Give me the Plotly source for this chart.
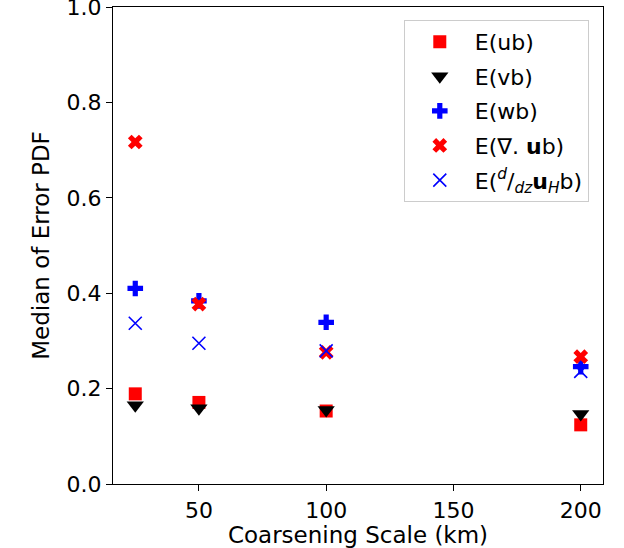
import plotly.graph_objects as go

scales = [25, 50, 100, 200]
e_ub = [0.189, 0.171, 0.153, 0.124]
e_vb = [0.165, 0.159, 0.155, 0.147]
e_wb = [0.410, 0.384, 0.339, 0.246]
e_div_ub = [0.717, 0.377, 0.276, 0.267]
e_dudz_b = [0.337, 0.295, 0.279, 0.236]

series = [
    ("E(ub)", e_ub, dict(symbol="square", color="red", size=13)),
    ("E(vb)", e_vb, dict(symbol="triangle-down", color="black", size=15)),
    ("E(wb)", e_wb, dict(symbol="cross", color="blue", size=13)),
    ("E(∇. <b>u</b>b)", e_div_ub, dict(symbol="x", color="red", size=13)),
    ("E(<sup><i>d</i></sup>/<sub><i>dz</i></sub><b>u</b><sub><i>H</i></sub>b)", e_dudz_b,
     dict(symbol="x-thin-open", color="blue", size=13, line=dict(width=1.6, color="blue"))),
]

fig = go.Figure()
for i, (name, vals, mk) in enumerate(series):
    m = dict(mk)
    if "line" not in m:
        m["line"] = dict(width=0)
    fig.add_trace(go.Scatter(x=scales, y=vals, mode="markers", name=name, marker=m,
                             legendgroup=f"g{i}"))

axis_common = dict(
    showline=True, linecolor="black", linewidth=1.3, mirror=True,
    ticks="outside", ticklen=6, tickwidth=1.3, tickcolor="black",
    showgrid=False, zeroline=False, automargin=False,
    ticklabeloverflow="allow",
    tickfont=dict(family="DejaVu Sans", size=22, color="black"),
)

fig.update_layout(
    width=624, height=548,
    margin=dict(l=113, r=21, t=7, b=64),
    paper_bgcolor="white", plot_bgcolor="white",
    font=dict(family="DejaVu Sans", color="black"),
    xaxis=dict(range=[16.25, 208.75], tickvals=[50, 100, 150, 200],
               title=dict(text="Coarsening Scale (km)", font=dict(size=23), standoff=6),
               **axis_common),
    yaxis=dict(range=[0, 1], tickvals=[0, 0.2, 0.4, 0.6, 0.8, 1.0], tickformat=".1f",
               title=dict(text="Median of Error PDF", font=dict(size=23), standoff=10),
               **axis_common),
    legend=dict(x=0.971, y=0.973, xanchor="right", yanchor="top",
                bordercolor="#cccccc", borderwidth=1, bgcolor="white",
                font=dict(family="DejaVu Sans", size=22, color="black"),
                itemsizing="trace", itemwidth=60, tracegroupgap=3),
    showlegend=True,
)

fig.write_html("out.html")
